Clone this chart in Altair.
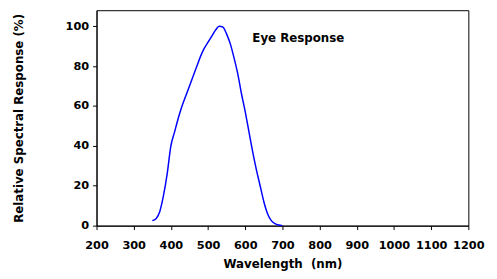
import altair as alt
import pandas as pd

wavelength = [350, 360, 370, 380, 390, 400, 410, 420, 430, 440, 450, 460, 470, 480,
              490, 500, 510, 520, 530, 540, 550, 560, 570, 580, 590, 600, 610, 620,
              630, 640, 650, 660, 670, 680, 690, 700]
response = [2.5, 3.5, 7, 15, 26, 40, 47, 54, 60, 65, 70, 75, 80, 85,
            89, 92, 95, 98, 100, 99.5, 96, 91, 84, 76, 66, 57, 47, 37,
            28, 20, 12, 6, 2.5, 1, 0.3, 0]

x_ticks = [200, 300, 400, 500, 600, 700, 800, 900, 1000, 1100, 1200]
y_ticks = [0, 20, 40, 60, 80, 100]

label_text = ["Eye Response"]
label_x = [619]
label_y = [94]

df = pd.DataFrame({"wl": wavelength, "resp": response})
lab = pd.DataFrame({"wl": label_x, "resp": label_y, "t": label_text})

FONT = "DejaVu Sans"

xscale = alt.Scale(domain=[200, 1200], nice=False, zero=False)
yscale = alt.Scale(domain=[0, 108], nice=False)

xaxis = alt.Axis(values=x_ticks, format="d", title="Wavelength\u00a0 (nm)", tickSize=4,
                 labelPadding=10, titlePadding=8, labelFlush=False, labelOverlap=False)
yaxis = alt.Axis(values=y_ticks, format="d", title="Relative Spectral Response (%)",
                 tickSize=4, labelPadding=4, titleX=-79, titleBaseline="middle",
                 labelOverlap=False)

line = alt.Chart(df).mark_line(color="#0000ff", strokeWidth=1.5, interpolate="monotone").encode(
    x=alt.X("wl:Q", scale=xscale, axis=xaxis),
    y=alt.Y("resp:Q", scale=yscale, axis=yaxis))

text = alt.Chart(lab).mark_text(align="left", baseline="middle", font=FONT, fontSize=12,
                                fontWeight="bold", color="black").encode(
    x=alt.X("wl:Q", scale=xscale, axis=xaxis),
    y=alt.Y("resp:Q", scale=yscale, axis=yaxis), text="t:N")

chart = (line + text).properties(
    width=378, height=219,
    autosize=alt.AutoSizeParams(type="none"),
    padding={"left": 90, "top": 0, "right": 21, "bottom": 52},
).configure_view(stroke="black", strokeWidth=1).configure_axis(
    grid=False, domainColor="black", tickColor="black", labelColor="black",
    titleColor="black", labelFont=FONT, titleFont=FONT, labelFontSize=11.5,
    titleFontSize=12, labelFontWeight="bold", titleFontWeight="bold",
    domainWidth=1, tickWidth=1,
)

chart.save("out.html", embed_options={"renderer": "svg", "actions": False})
